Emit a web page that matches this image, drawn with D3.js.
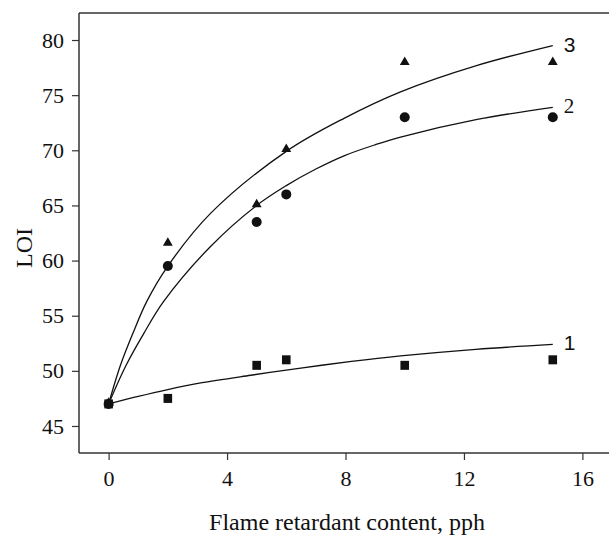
<!DOCTYPE html>
<html><head><meta charset="utf-8">
<script src="https://cdn.jsdelivr.net/npm/d3@7"></script>
<style>
body{margin:0;background:#fff;}
svg{display:block;}
</style></head>
<body>
<svg id="c" width="609" height="538"></svg>
<script>
// Measured data points
const xValues = [0, 2, 5, 6, 10, 15];
const series1 = [47.0, 47.5, 50.5, 51.0, 50.5, 51.0];   // squares
const series2 = [47.0, 59.5, 63.5, 66.0, 73.0, 73.0];   // circles
const series3 = [47.1, 61.6, 65.1, 70.1, 78.0, 78.0];   // triangles

// Fitted curves, points
const fit1X = [0, 1, 2, 3.11, 4.8, 6.49, 8.2, 9.86, 12.4, 15];
const fit1Y = [47, 47.68, 48.3, 48.9, 49.6, 50.25, 50.85, 51.35, 51.95, 52.4];
const fit2X = [0, 0.57, 1.19, 1.86, 3.45, 5, 6, 7, 7.95, 9, 9.86, 12.45, 15];
const fit2Y = [47, 50.4, 53.4, 56.3, 61.3, 65.0, 66.8, 68.3, 69.5, 70.5, 71.2, 72.8, 73.9];
const fit3X = [0, 0.4, 0.82, 1.29, 2, 3.45, 6, 7.95, 9.86, 12.45, 15];
const fit3Y = [47, 50.5, 53.4, 56.3, 59.5, 64.3, 69.9, 72.9, 75.3, 77.7, 79.5];

const curveLabels = ["1", "2", "3"];
const xTicks = [0, 4, 8, 12, 16];
const yTicks = [45, 50, 55, 60, 65, 70, 75, 80];
const xTitle = "Flame retardant content, pph";
const yTitle = "LOI";

const svg = d3.select("#c");
const x = d3.scaleLinear().domain([-1, 17]).range([79, 612]);
const y = d3.scaleLinear().domain([42.55, 82.45]).range([453, 13]);
const serif = "'Liberation Serif', 'Times New Roman', serif";
const sans = "'Liberation Sans', Arial, sans-serif";
const ink = "#111";

// top frame line
svg.append("line").attr("x1", 79).attr("x2", 609).attr("y1", 13).attr("y2", 13)
  .attr("stroke", "#333").attr("stroke-width", 1.5);

const xAxis = svg.append("g").attr("transform", "translate(0,453)")
  .call(d3.axisBottom(x).tickValues(xTicks).tickSize(7).tickPadding(10).tickSizeOuter(0));
const yAxis = svg.append("g").attr("transform", "translate(79,0)")
  .call(d3.axisLeft(y).tickValues(yTicks).tickSize(7).tickPadding(8).tickSizeOuter(0));
[xAxis, yAxis].forEach(g => {
  g.select(".domain").attr("stroke", "#333").attr("stroke-width", 1.5);
  g.selectAll(".tick line").attr("stroke", "#333").attr("stroke-width", 1.2);
  g.selectAll(".tick text").attr("fill", ink).style("font-family", serif).style("font-size", "22px");
});
xAxis.select(".domain").attr("d", "M79,0H609");
yAxis.select(".domain").attr("d", "M0,13V453");

// titles
svg.append("text").attr("x", 347).attr("y", 530).attr("text-anchor", "middle")
  .style("font-family", serif).style("font-size", "24px").attr("fill", ink).text(xTitle);
svg.append("text").attr("transform", "translate(32,248) rotate(-90)").attr("text-anchor", "middle")
  .style("font-family", serif).style("font-size", "24px").attr("fill", ink).text(yTitle);

// fitted curves
const line = d3.line().x(d => x(d[0])).y(d => y(d[1])).curve(d3.curveCatmullRom.alpha(0.5));
const fits = [d3.zip(fit1X, fit1Y), d3.zip(fit2X, fit2Y), d3.zip(fit3X, fit3Y)];
fits.forEach(f => {
  svg.append("path").attr("d", line(f)).attr("fill", "none").attr("stroke", ink).attr("stroke-width", 1.3);
});

// curve labels
const labelFonts = [sans, serif, sans];
fits.forEach((f, i) => {
  const last = f[f.length - 1];
  svg.append("text").attr("x", x(last[0]) + 11).attr("y", y(last[1]) + 6)
    .style("font-family", labelFonts[i]).style("font-size", "21px").attr("fill", ink).text(curveLabels[i]);
});

// markers
svg.append("g").selectAll("path").data(d3.zip(xValues, series3)).join("path")
  .attr("transform", d => `translate(${x(d[0])},${y(d[1])})`)
  .attr("d", d3.symbol(d3.symbolTriangle, 42)()).attr("fill", ink);
svg.append("g").selectAll("rect").data(d3.zip(xValues, series1)).join("rect")
  .attr("x", d => x(d[0]) - 4.3).attr("y", d => y(d[1]) - 4.5).attr("width", 8.6).attr("height", 9).attr("fill", ink);
svg.append("g").selectAll("circle").data(d3.zip(xValues, series2)).join("circle")
  .attr("cx", d => x(d[0])).attr("cy", d => y(d[1])).attr("r", 5).attr("fill", ink);
</script>
</body></html>
